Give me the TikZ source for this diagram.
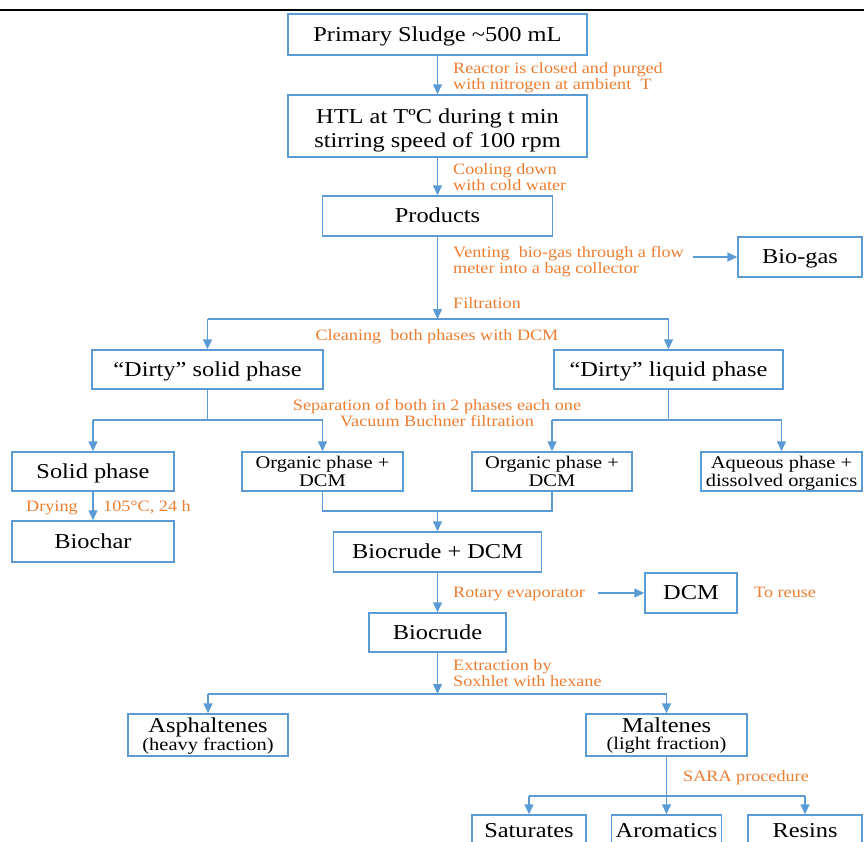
\documentclass[tikz,border=0pt]{standalone}
\usepackage{fontspec}
\setmainfont{Liberation Serif}[FakeStretch=1.15]
\usetikzlibrary{arrows.meta}
\definecolor{bl}{HTML}{5B9BD5}
\definecolor{orng}{HTML}{ED7D31}
\newcommand\fbig{\fontsize{21.2}{24}\selectfont}
\newcommand\fmed{\fontsize{17.8}{18}\selectfont}
\newcommand\fmix{\fontsize{21.2}{17}\selectfont}
\newcommand\fmixs{\fontsize{17.8}{17}\selectfont}
\newcommand\fora{\fontsize{15.8}{16}\selectfont}
\newcommand\boxstrut{\rule[-4.6pt]{0pt}{22.6pt}}
\begin{document}
\begin{tikzpicture}[x=1pt,y=-1pt,
 box/.style={draw=bl,line width=1.5pt,inner sep=0pt,align=center,font=\fbig},
 sl/.style={box,execute at begin node=\boxstrut},
 arr/.style={draw=bl,line width=1.5pt,-{Triangle[length=10pt,width=9pt]}},
 ln/.style={draw=bl,line width=1.5pt},
 lab/.style={text=orng,font=\fora,inner sep=0pt,align=left}]
\useasboundingbox (0,0) rectangle (864,841);
\clip (0,0) rectangle (864,841);
\draw[line width=2pt] (0,10) -- (864,10);

% boxes
\node[sl,minimum width=299pt,minimum height=41pt] (A) at (437.5,34.5) {Primary Sludge \textasciitilde500 mL};
\node[box,minimum width=299pt,minimum height=62pt] (B) at (437.5,126) {\rule{0pt}{23pt}HTL at TºC during t min\\stirring speed of 100 rpm};
\node[sl,minimum width=230pt,minimum height=40pt] (C) at (437.5,216) {Products};
\node[sl,minimum width=124pt,minimum height=40pt] (bio) at (800,257) {Bio-gas};
\node[sl,minimum width=231pt,minimum height=39pt] (D) at (207.5,369.5) {“Dirty” solid phase};
\node[sl,minimum width=229pt,minimum height=39pt] (E) at (668.5,369.5) {“Dirty” liquid phase};
\node[sl,minimum width=162pt,minimum height=39pt] (F) at (93,471.5) {Solid phase};
\node[box,font=\fmed,minimum width=161pt,minimum height=39pt] (G) at (322.5,471.5) {Organic phase +\\DCM};
\node[box,font=\fmed,minimum width=160pt,minimum height=39pt] (H) at (552,471.5) {Organic phase +\\DCM};
\node[box,font=\fmed,minimum width=161pt,minimum height=39pt] (I) at (781.5,471.5) {\rule{0pt}{16.8pt}Aqueous phase +\\dissolved organics};
\node[sl,minimum width=162pt,minimum height=41pt] (J) at (93,541.5) {Biochar};
\node[sl,minimum width=208pt,minimum height=40pt] (K) at (437.5,552) {Biocrude + DCM};
\node[sl,minimum width=92pt,minimum height=40pt] (dcm) at (691,593) {DCM};
\node[sl,minimum width=137pt,minimum height=39pt] (L) at (437.5,632.5) {Biocrude};
\node[box,font=\fmix,minimum width=160pt,minimum height=42pt] (M) at (208,735) {\rule{0pt}{16pt}Asphaltenes\\\fmixs (heavy fraction)};
\node[box,font=\fmix,minimum width=161pt,minimum height=42pt] (N) at (666.5,735) {\rule{0pt}{16pt}Maltenes\\\fmixs (light fraction)};
\node[sl,minimum width=114pt,minimum height=32pt] (O) at (529,831) {Saturates};
\node[sl,minimum width=110pt,minimum height=32pt] (P) at (666.5,831) {Aromatics};
\node[sl,minimum width=114pt,minimum height=32pt] (Q) at (805,831) {Resins};

% labels
\node[lab,anchor=north west] (l1) at (453,62.2) {Reactor is closed and purged\\with nitrogen at ambient\ \ T};
\node[lab,anchor=north west] (l2) at (453,163.2) {Cooling down\\with cold water};
\node[lab,anchor=north west] (l3) at (453,246.2) {Venting\ \ bio-gas through a flow\\meter into a bag collector};
\node[lab,anchor=base west] (l4) at (453,308) {Filtration};
\node[lab,anchor=base] (l5) at (437,340) {Cleaning\ \ both phases with DCM};
\node[lab,align=center,anchor=north] (l6) at (437,399.2) {Separation of both in 2 phases each one\\Vacuum Buchner filtration};
\node[lab,anchor=base west] (l7) at (26,511) {Drying};
\node[lab,anchor=base west] (l8) at (103,511) {105°C, 24 h};
\node[lab,anchor=base west] (l9) at (453,597) {Rotary evaporator};
\node[lab,anchor=base west] (l10) at (754,597) {To reuse};
\node[lab,anchor=north west] (l11) at (453,659.2) {Extraction by\\Soxhlet with hexane};
\node[lab,anchor=base west] (l12) at (683,781) {SARA procedure};

% connectors
\draw[arr] (A) -- (B);
\draw[arr] (B) -- (C);
\coordinate (t1) at (437.5,319);
\draw[arr] (C) -- (t1);
\draw[ln] (D.north |- t1) -- (E.north |- t1);
\draw[arr] (D.north |- t1) -- (D.north);
\draw[arr] (E.north |- t1) -- (E.north);
\coordinate (bg) at (693,257);
\draw[arr] (bg) -- (bio);
\coordinate (t2) at (0,420);
\draw[ln] (D.south) -- (D.south |- t2);
\draw[ln] (F.north |- t2) -- (G.north |- t2);
\draw[arr] (F.north |- t2) -- (F.north);
\draw[arr] (G.north |- t2) -- (G.north);
\draw[ln] (E.south) -- (E.south |- t2);
\draw[ln] (H.north |- t2) -- (I.north |- t2);
\draw[arr] (H.north |- t2) -- (H.north);
\draw[arr] (I.north |- t2) -- (I.north);
\draw[arr] (F) -- (J);
\coordinate (t3) at (437.5,511);
\draw[ln] (G.south) -- (G.south |- t3) -- (H.south |- t3) -- (H.south);
\draw[arr] (t3) -- (K);
\draw[arr] (K) -- (L);
\coordinate (rv) at (598,593);
\draw[arr] (rv) -- (dcm);
\coordinate (t4) at (437.5,694);
\draw[arr] (L) -- (t4);
\draw[ln] (M.north |- t4) -- (N.north |- t4);
\draw[arr] (M.north |- t4) -- (M.north);
\draw[arr] (N.north |- t4) -- (N.north);
\coordinate (t5) at (666.5,796);
\draw[ln] (N.south) -- (t5);
\draw[ln] (O.north |- t5) -- (Q.north |- t5);
\draw[arr] (O.north |- t5) -- (O.north);
\draw[arr] (t5) -- (P.north);
\draw[arr] (Q.north |- t5) -- (Q.north);
\end{tikzpicture}
\end{document}
